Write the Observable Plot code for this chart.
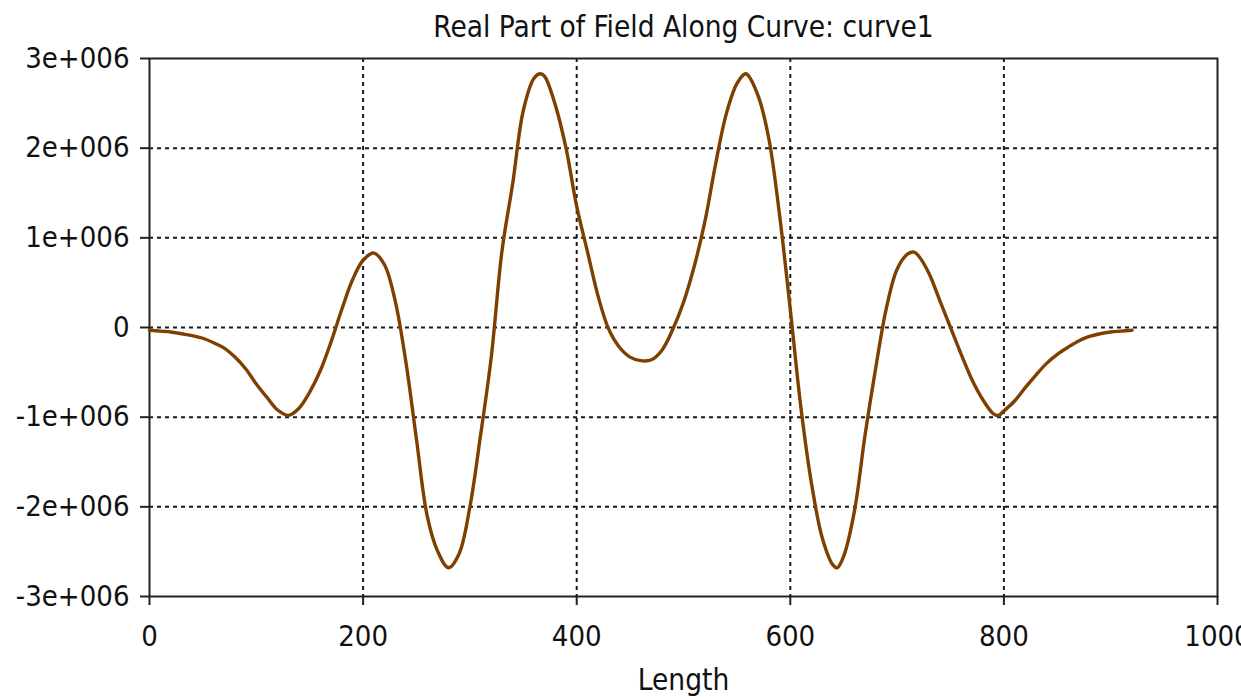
<!DOCTYPE html>
<html>
<head>
<meta charset="utf-8">
<script src="https://cdn.jsdelivr.net/npm/d3@7"></script>
<script src="https://cdn.jsdelivr.net/npm/@observablehq/plot@0.6"></script>
<style>
  html, body { margin: 0; padding: 0; background: #fff; overflow: hidden; }
  #chart svg { display: block; }
</style>
</head>
<body>
<div id="chart"></div>
<script>
const titleText = "Real Part of Field Along Curve: curve1";
const xLabel = "Length";
const xTicks = [0, 200, 400, 600, 800, 1000];
const yTicks = [-3e6, -2e6, -1e6, 0, 1e6, 2e6, 3e6];

const lengthValues = [
  0, 10, 20, 30, 40, 50, 60, 70, 80, 90,
  100, 110, 120, 130, 140, 150, 160, 170, 180, 190,
  200, 210, 220, 230, 240, 250, 260, 270, 280, 290,
  300, 310, 320, 330, 340, 350, 360, 366, 370, 380, 390,
  400, 410, 420, 430, 440, 450, 460, 470, 480, 490,
  500, 510, 520, 530, 540, 550, 558, 560, 570, 580, 590,
  600, 610, 620, 630, 640, 644, 650, 660, 670, 680, 690,
  700, 710, 716, 720, 730, 740, 750, 760, 770, 780, 790, 795,
  800, 810, 820, 830, 840, 850, 860, 870, 880, 890,
  900, 910, 920
];
const fieldValues = [
  -0.03, -0.04, -0.05, -0.07, -0.09, -0.12, -0.17, -0.23, -0.33, -0.46,
  -0.63, -0.78, -0.92, -0.98, -0.90, -0.72, -0.48, -0.16, 0.20, 0.53,
  0.75, 0.83, 0.70, 0.30, -0.38, -1.25, -2.10, -2.50, -2.68, -2.52,
  -2.00, -1.20, -0.33, 0.85, 1.60, 2.42, 2.78, 2.83, 2.80, 2.48, 2.00,
  1.35, 0.85, 0.35, -0.02, -0.22, -0.33, -0.37, -0.36, -0.25, -0.02,
  0.28, 0.68, 1.18, 1.82, 2.38, 2.72, 2.83, 2.82, 2.58, 2.10, 1.25,
  0.20, -0.90, -1.75, -2.35, -2.65, -2.68, -2.55, -2.05, -1.20, -0.45, 0.22,
  0.65, 0.82, 0.84, 0.80, 0.60, 0.30, 0.00, -0.30, -0.58, -0.80, -0.96, -0.98,
  -0.93, -0.82, -0.67, -0.53, -0.40, -0.30, -0.22, -0.15, -0.10, -0.07,
  -0.05, -0.04, -0.03
].map(v => v * 1e6);

const data = lengthValues.map((x, i) => ({x, y: fieldValues[i]}));
const fmtY = d => d === 0 ? "0" : `${d / 1e6}e+006`;
const fmtX = d => String(d);
const font = "'DejaVu Sans Condensed', 'DejaVu Sans', sans-serif";

const chart = Plot.plot({
  width: 1241,
  height: 699,
  marginLeft: 149,
  marginRight: 24,
  marginTop: 58,
  marginBottom: 103,
  style: {fontFamily: font, fontSize: "29px", color: "#111", background: "#fff", overflow: "visible"},
  x: {domain: [0, 1000], label: null},
  y: {domain: [-3e6, 3e6], label: null},
  marks: [
    Plot.ruleX(xTicks.filter(d => d > 0 && d < 1000), {stroke: "#000", strokeWidth: 2, strokeDasharray: "4,4", strokeOpacity: 0.9}),
    Plot.ruleY(yTicks.filter(d => d > -3e6 && d < 3e6), {stroke: "#000", strokeWidth: 2, strokeDasharray: "4,4", strokeOpacity: 0.9}),
    Plot.frame({stroke: "#222", strokeWidth: 2}),
    Plot.axisX({ticks: xTicks, tickFormat: fmtX, tickSize: 9, tickPadding: 20, label: null, stroke: "#222", strokeWidth: 2, fontSize: 29}),
    Plot.axisY({ticks: yTicks, tickFormat: fmtY, tickSize: 9, tickPadding: 11, label: null, stroke: "#222", strokeWidth: 2, fontSize: 29}),
    Plot.line(data, {x: "x", y: "y", curve: "catmull-rom", stroke: "#7f3f00", strokeWidth: 3.4, strokeLinejoin: "round"}),
    Plot.text([titleText], {frameAnchor: "top", dy: -42, fontSize: 29.5, fill: "#111"}),
    Plot.text([xLabel], {frameAnchor: "bottom", dy: 93, fontSize: 29.5, fill: "#111"})
  ]
});
document.getElementById("chart").appendChild(chart);
</script>
</body>
</html>
